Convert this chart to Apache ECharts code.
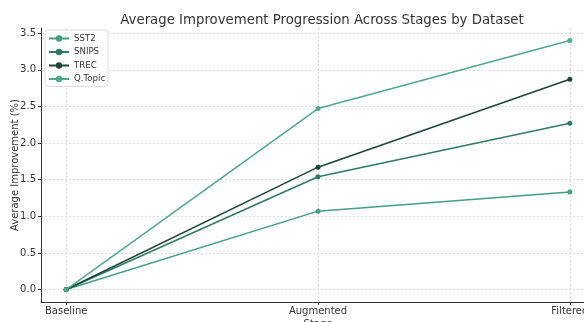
<!DOCTYPE html>
<html>
<head>
<meta charset="utf-8">
<script src="https://cdn.jsdelivr.net/npm/echarts@6/dist/echarts.min.js"></script>
<style>
  html, body { margin: 0; padding: 0; background: #fff; }
  #chart { width: 584px; height: 322px; }
</style>
</head>
<body>
<div id="chart"></div>
<script>
// Stages along the x axis
const stages = ['Baseline', 'Augmented', 'Filtered'];

// Average improvement (%) per dataset at each stage
const sst2 = [0, 1.07, 1.33];
const snips = [0, 1.54, 2.27];
const trec = [0, 1.67, 2.87];
const qtopic = [0, 2.47, 3.40];

// Y tick labels
const yTicks = [0, 0.5, 1.0, 1.5, 2.0, 2.5, 3.0, 3.5];

const seriesDefs = [
  { name: 'SST2', data: sst2, color: '#42a07f' },
  { name: 'SNIPS', data: snips, color: '#2f7a60' },
  { name: 'TREC', data: trec, color: '#1d4637' },
  { name: 'Q.Topic', data: qtopic, color: '#4eaa8a' }
];

const font = 'DejaVu Sans';
const chart = echarts.init(document.getElementById('chart'), null, { renderer: 'canvas' });

chart.setOption({
  animation: false,
  backgroundColor: '#ffffff',
  title: {
    text: 'Average Improvement Progression Across Stages by Dataset',
    left: 317,
    textAlign: 'center',
    top: 9,
    textStyle: { fontFamily: font, fontSize: 13.3, fontWeight: 'normal', color: '#333333' }
  },
  legend: {
    orient: 'vertical',
    left: 45,
    top: 30,
    itemWidth: 20,
    itemHeight: 8,
    itemGap: 4.5,
    padding: [4, 3, 3, 3],
    borderColor: '#dddddd',
    borderWidth: 1,
    borderRadius: 3,
    backgroundColor: 'rgba(255,255,255,0.8)',
    textStyle: { fontFamily: font, fontSize: 8.6, color: '#333333' },
    data: seriesDefs.map(s => s.name)
  },
  grid: { left: 41, right: -11, top: 28, bottom: 20, containLabel: false, outerBoundsMode: 'none' },
  xAxis: {
    type: 'value',
    min: -0.1,
    max: 2.1,
    name: 'Stage',
    nameLocation: 'middle',
    nameGap: 17,
    nameMoveOverlap: false,
    nameTextStyle: { fontFamily: font, fontSize: 10, color: '#333333' },
    axisLine: { show: true, onZero: false, lineStyle: { color: '#333333', width: 1 } },
    axisTick: { show: true, customValues: [0, 1, 2], length: 3, lineStyle: { color: '#333333' } },
    axisLabel: {
      customValues: [0, 1, 2],
      fontFamily: font, fontSize: 10, color: '#333333', margin: 4,
      formatter: v => stages[Math.round(v)]
    },
    splitLine: { show: true, lineStyle: { color: '#dddddd', type: [2, 2], width: 1 } }
  },
  yAxis: {
    type: 'value',
    min: -0.17,
    max: 3.57,
    name: 'Average Improvement (%)',
    nameLocation: 'middle',
    nameGap: 21,
    nameMoveOverlap: false,
    nameTextStyle: { fontFamily: font, fontSize: 10, color: '#333333' },
    axisLine: { show: true, onZero: false, lineStyle: { color: '#333333', width: 1 } },
    axisTick: { show: true, customValues: yTicks, length: 3, lineStyle: { color: '#333333' } },
    axisLabel: {
      customValues: yTicks,
      fontFamily: font, fontSize: 10, color: '#333333', margin: 5,
      formatter: v => v.toFixed(1)
    },
    splitLine: { show: true, lineStyle: { color: '#dddddd', type: [2, 2], width: 1 } }
  },
  series: seriesDefs.map(s => ({
    name: s.name,
    type: 'line',
    data: s.data.map((v, i) => [i, v]),
    symbol: 'circle',
    symbolSize: 5,
    showSymbol: true,
    itemStyle: { color: s.color },
    lineStyle: { color: s.color, width: 1.5 }
  }))
});
</script>
</body>
</html>
